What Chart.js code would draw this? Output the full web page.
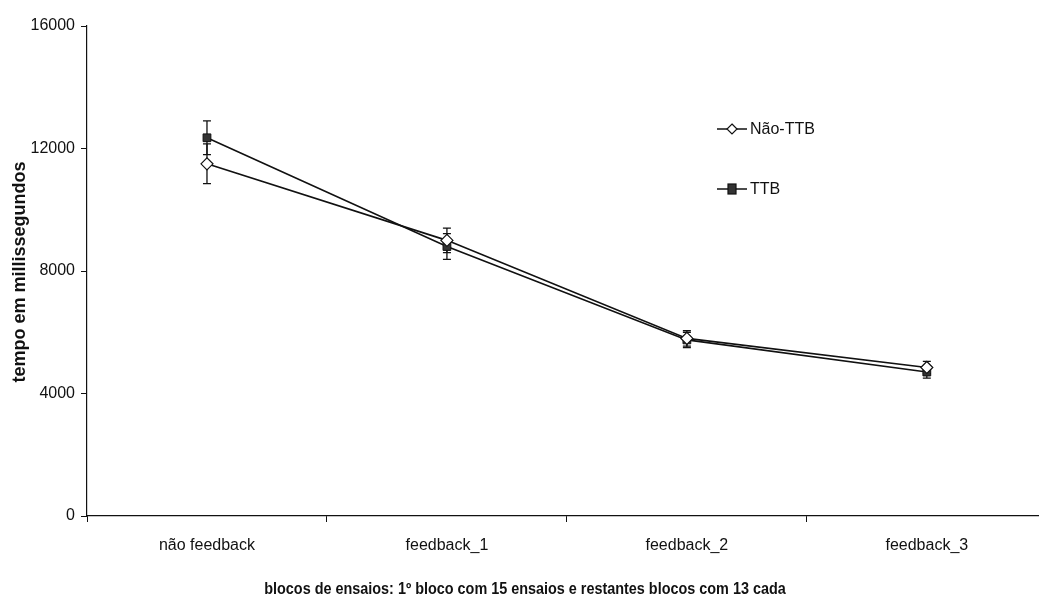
<!DOCTYPE html>
<html>
<head>
<meta charset="utf-8">
<script src="https://cdn.jsdelivr.net/npm/chart.js@4.4.0/dist/chart.umd.min.js"></script>
<style>
  html, body { margin: 0; padding: 0; background: #fff; overflow: hidden; }
  #wrap { position: absolute; left: 0; top: 0; width: 1054px; height: 600px; }
</style>
</head>
<body>
<div id="wrap"><canvas id="chart" width="1054" height="600"></canvas></div>
<script>
const categories = ['não feedback', 'feedback_1', 'feedback_2', 'feedback_3'];
const naoTTB = [11500, 9000, 5800, 4850];
const naoTTBErr = [650, 400, 250, 200];
const ttb = [12350, 8800, 5750, 4700];
const ttbErr = [550, 420, 250, 200];
const yTicks = [0, 4000, 8000, 12000, 16000];

const ink = '#111';
const errors = [naoTTBErr, ttbErr];

const errorBars = {
  id: 'errorBars',
  beforeDatasetsDraw(chart) {
    const ctx = chart.ctx;
    const y = chart.scales.y;
    ctx.save();
    ctx.strokeStyle = ink;
    ctx.lineWidth = 1.3;
    chart.data.datasets.forEach((ds, di) => {
      const meta = chart.getDatasetMeta(di);
      meta.data.forEach((pt, i) => {
        const v = ds.data[i];
        const e = errors[di][i];
        const top = y.getPixelForValue(v + e);
        const bot = y.getPixelForValue(v - e);
        ctx.beginPath();
        ctx.moveTo(pt.x, top);
        ctx.lineTo(pt.x, bot);
        ctx.moveTo(pt.x - 4, top);
        ctx.lineTo(pt.x + 4, top);
        ctx.moveTo(pt.x - 4, bot);
        ctx.lineTo(pt.x + 4, bot);
        ctx.stroke();
      });
    });
    ctx.restore();
  }
};

const extras = {
  id: 'extras',
  afterDraw(chart) {
    const ctx = chart.ctx;
    ctx.save();
    ctx.fillStyle = ink;
    ctx.strokeStyle = ink;

    // axis titles (scan is slightly condensed horizontally)
    ctx.textAlign = 'center';
    ctx.textBaseline = 'middle';
    ctx.save();
    ctx.translate(525, 590);
    ctx.scale(0.9, 1);
    ctx.font = 'bold 16px "Liberation Sans", Arial, sans-serif';
    ctx.fillText('blocos de ensaios: 1º bloco com 15 ensaios e restantes blocos com 13 cada', 0, 0);
    ctx.restore();
    ctx.save();
    ctx.translate(20, 272);
    ctx.rotate(-Math.PI / 2);
    ctx.font = 'bold 18px "Liberation Sans", Arial, sans-serif';
    ctx.fillText('tempo em millissegundos', 0, 0);
    ctx.restore();

    // legend
    const rows = [
      { label: 'Não-TTB', y: 129, ds: 0 },
      { label: 'TTB', y: 189, ds: 1 }
    ];
    ctx.font = '16px "Liberation Sans", Arial, sans-serif';
    ctx.textAlign = 'left';
    rows.forEach((r) => {
      ctx.lineWidth = 1.5;
      ctx.beginPath();
      ctx.moveTo(717, r.y);
      ctx.lineTo(747, r.y);
      ctx.stroke();
      ctx.lineWidth = 1.2;
      if (r.ds === 0) {
        ctx.beginPath();
        ctx.moveTo(732, r.y - 5);
        ctx.lineTo(737, r.y);
        ctx.lineTo(732, r.y + 5);
        ctx.lineTo(727, r.y);
        ctx.closePath();
        ctx.fillStyle = '#fff';
        ctx.fill();
        ctx.stroke();
      } else {
        ctx.fillStyle = '#333';
        ctx.fillRect(728, r.y - 5, 8, 10);
        ctx.strokeRect(728, r.y - 5, 8, 10);
      }
      ctx.fillStyle = ink;
      ctx.fillText(r.label, 750, r.y + 1);
    });
    ctx.restore();
  }
};

new Chart(document.getElementById('chart'), {
  type: 'line',
  data: {
    labels: categories,
    datasets: [
      {
        label: 'Não-TTB',
        data: naoTTB,
        borderColor: ink,
        borderWidth: 1.6,
        pointStyle: 'rectRot',
        pointRadius: 6,
        pointBackgroundColor: '#fff',
        pointBorderColor: ink,
        pointBorderWidth: 1.2,
        tension: 0
      },
      {
        label: 'TTB',
        data: ttb,
        borderColor: ink,
        borderWidth: 1.6,
        pointStyle: 'rect',
        pointRadius: 5.5,
        pointBackgroundColor: '#333',
        pointBorderColor: ink,
        pointBorderWidth: 1,
        tension: 0
      }
    ]
  },
  options: {
    responsive: false,
    animation: false,
    events: [],
    layout: { padding: { top: 26, left: 0, right: 0, bottom: 0 } },
    plugins: {
      legend: { display: false },
      tooltip: { enabled: false }
    },
    scales: {
      x: {
        offset: true,
        grid: { offset: true, drawOnChartArea: false, drawTicks: true, tickLength: 6, color: ink },
        border: { color: ink, width: 1.2 },
        ticks: { color: ink, padding: 14, maxRotation: 0, font: { family: '"Liberation Sans", Arial, sans-serif', size: 16 } },
        afterFit(scale) { scale.height = 84; }
      },
      y: {
        min: 0,
        max: 16000,
        afterBuildTicks(scale) { scale.ticks = yTicks.map((v) => ({ value: v })); },
        grid: { drawOnChartArea: false, drawTicks: true, tickLength: 6, color: ink },
        border: { color: ink, width: 1.2 },
        ticks: {
          color: ink,
          padding: 6,
          font: { family: '"Liberation Sans", Arial, sans-serif', size: 16 },
          callback: (v) => String(v)
        },
        afterFit(scale) { scale.width = 87; }
      }
    }
  },
  plugins: [errorBars, extras]
});
</script>
</body>
</html>
